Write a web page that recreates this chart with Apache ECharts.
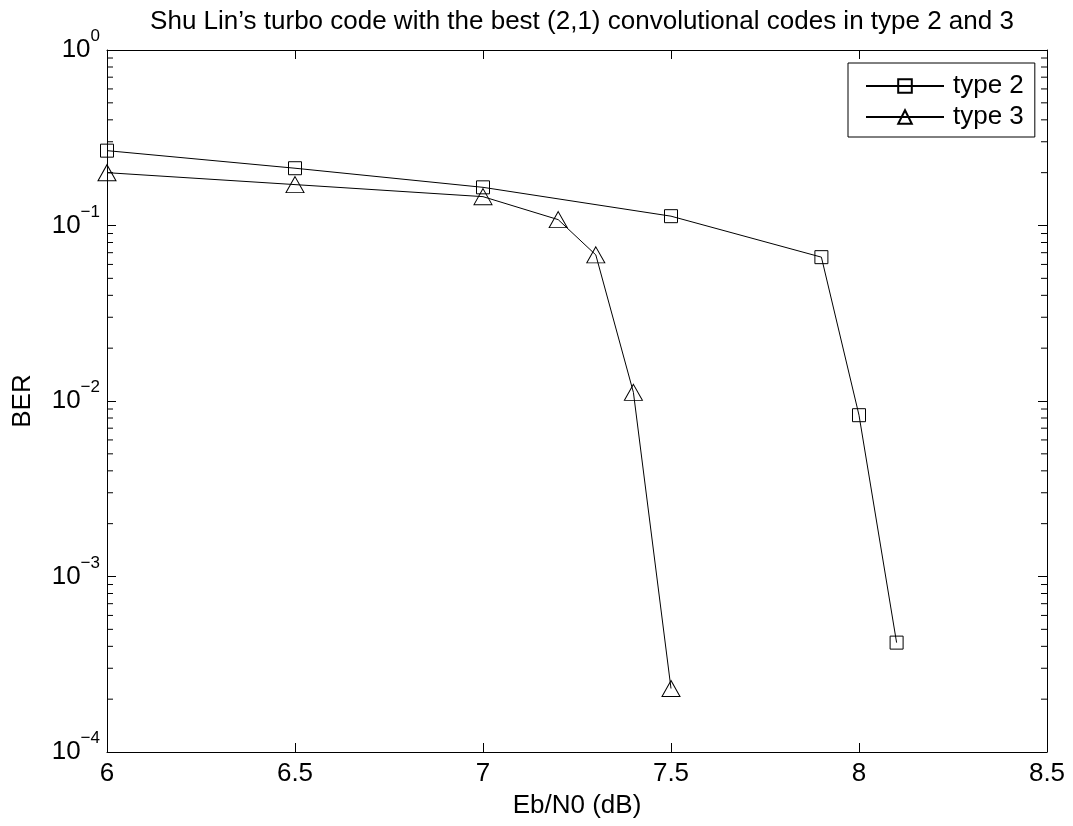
<!DOCTYPE html>
<html>
<head>
<meta charset="utf-8">
<script src="https://cdn.jsdelivr.net/npm/echarts@6/dist/echarts.min.js"></script>
<style>
html,body{margin:0;padding:0;background:#fff;}
#chart{width:1073px;height:826px;}
</style>
</head>
<body>
<div id="chart"></div>
<script>
var titleText = 'Shu Lin\u2019s turbo code with the best (2,1) convolutional codes in type 2 and 3';
var xName = 'Eb/N0 (dB)';
var yName = 'BER';
var seriesNames = ['type 2', 'type 3'];

var ebn0Type2 = [6, 6.5, 7, 7.5, 7.9, 8.0, 8.1];
var berType2 = [0.267, 0.212, 0.165, 0.113, 0.066, 0.0083, 0.00042];

var ebn0Type3 = [6, 6.5, 7, 7.2, 7.3, 7.4, 7.5];
var berType3 = [0.200, 0.171, 0.146, 0.108, 0.068, 0.0112, 0.00023];

var xTicks = [6, 6.5, 7, 7.5, 8, 8.5];
var yDecades = [1e-4, 1e-3, 1e-2, 1e-1, 1];
var minorMultipliers = [2, 3, 4, 5, 6, 7, 8, 9];

var FONT = '"Liberation Sans", Arial, Helvetica, sans-serif';

function zip(xs, ys) { return xs.map(function (x, i) { return [x, ys[i]]; }); }

var minorData = [];
for (var d = 0; d < yDecades.length - 1; d++) {
  for (var m = 0; m < minorMultipliers.length; m++) {
    minorData.push([xTicks[0], yDecades[d] * minorMultipliers[m]]);
  }
}

var chart = echarts.init(document.getElementById('chart'), null, {renderer: 'canvas'});

var axisLineStyle = {show: true, lineStyle: {color: '#000', width: 1}};
var axisTickStyle = {show: true, inside: true, length: 9, lineStyle: {color: '#000', width: 1}};

var option = {
  backgroundColor: '#fff',
  animation: false,
  title: {
    text: titleText,
    left: 577,
    textAlign: 'center',
    top: 4,
    textStyle: {fontFamily: FONT, fontSize: 26, fontWeight: 'normal', color: '#000'}
  },
  legend: {
    data: seriesNames,
    orient: 'vertical',
    left: 848,
    top: 63,
    padding: [10, 11, 7, 17],
    itemGap: 5,
    itemWidth: 78,
    itemHeight: 17,
    borderColor: '#000',
    borderWidth: 1,
    backgroundColor: '#fff',
    selectedMode: false,
    textStyle: {fontFamily: FONT, fontSize: 26, color: '#000', padding: [0, 0, 0, 4]}
  },
  grid: {left: 107, right: 26, top: 50, bottom: 74, containLabel: false},
  xAxis: [{
    type: 'value',
    min: 6, max: 8.5, interval: 0.5,
    name: xName,
    nameLocation: 'middle',
    nameGap: 41,
    nameTextStyle: {fontFamily: FONT, fontSize: 26, color: '#000'},
    axisLine: axisLineStyle,
    axisTick: axisTickStyle,
    splitLine: {show: false},
    axisLabel: {fontFamily: FONT, fontSize: 26, color: '#000', margin: 9,
      formatter: function (v) { return String(v); }}
  }, {
    type: 'value',
    position: 'top',
    min: 6, max: 8.5, interval: 0.5,
    axisLine: axisLineStyle,
    axisTick: axisTickStyle,
    splitLine: {show: false},
    axisLabel: {show: false}
  }],
  yAxis: [{
    type: 'log',
    logBase: 10,
    min: 1e-4, max: 1,
    name: yName,
    nameLocation: 'middle',
    nameGap: 71,
    nameTextStyle: {fontFamily: FONT, fontSize: 26, color: '#000'},
    axisLine: axisLineStyle,
    axisTick: axisTickStyle,
    splitLine: {show: false},
    axisLabel: {
      margin: 7,
      formatter: function (v) {
        var e = Math.round(Math.log10(v));
        var s = e < 0 ? '\u2212' + (-e) : String(e);
        return '{b|10}{s|' + s + '}';
      },
      rich: {
        b: {fontFamily: FONT, fontSize: 26, color: '#000', lineHeight: 44},
        s: {fontFamily: FONT, fontSize: 17, color: '#000', lineHeight: 17, verticalAlign: 'top'}
      }
    }
  }, {
    type: 'log',
    logBase: 10,
    min: 1e-4, max: 1,
    position: 'right',
    axisLine: axisLineStyle,
    axisTick: axisTickStyle,
    splitLine: {show: false},
    axisLabel: {show: false}
  }],
  tooltip: {show: false},
  series: [{
    name: seriesNames[0],
    type: 'line',
    data: zip(ebn0Type2, berType2),
    symbol: 'rect',
    symbolSize: 13,
    showAllSymbol: true,
    lineStyle: {color: '#000', width: 1},
    itemStyle: {color: 'rgba(255,255,255,0)', borderColor: '#000', borderWidth: 1},
    emphasis: {disabled: true},
    z: 3
  }, {
    name: seriesNames[1],
    type: 'line',
    data: zip(ebn0Type3, berType3),
    symbol: 'triangle',
    symbolSize: [18, 16],
    showAllSymbol: true,
    lineStyle: {color: '#000', width: 1},
    itemStyle: {color: 'rgba(255,255,255,0)', borderColor: '#000', borderWidth: 1},
    emphasis: {disabled: true},
    z: 3
  }, {
    type: 'custom',
    silent: true,
    data: minorData,
    encode: {x: 0, y: 1},
    renderItem: function (params, api) {
      var cs = params.coordSys;
      var y = api.coord([api.value(0), api.value(1)])[1];
      var len = 6;
      return {
        type: 'group',
        children: [{
          type: 'line',
          shape: {x1: cs.x, y1: y, x2: cs.x + len, y2: y},
          style: {stroke: '#000', lineWidth: 1}
        }, {
          type: 'line',
          shape: {x1: cs.x + cs.width - len, y1: y, x2: cs.x + cs.width, y2: y},
          style: {stroke: '#000', lineWidth: 1}
        }]
      };
    },
    z: 2
  }]
};

chart.setOption(option);
</script>
</body>
</html>
